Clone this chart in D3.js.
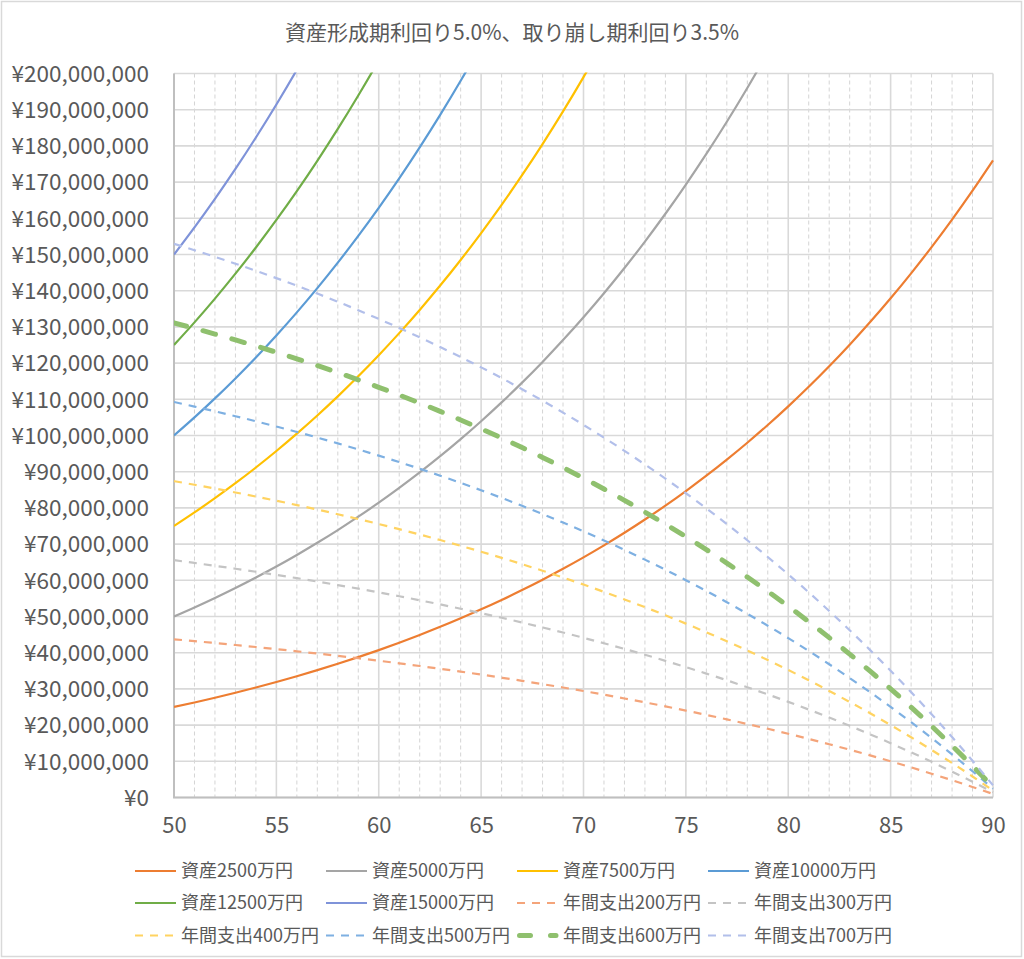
<!DOCTYPE html>
<html><head><meta charset="utf-8">
<script src="https://cdn.jsdelivr.net/npm/d3@7/dist/d3.min.js"></script>
<style>body{margin:0;background:#fff}</style>
</head><body>
<svg id="c" width="1024" height="959"></svg>
<script>
// ---------- DATA (values in 万円) ----------
const title = "資産形成期利回り5.0%、取り崩し期利回り3.5%";
const ages = [50,51,52,53,54,55,56,57,58,59,60,61,62,63,64,65,66,67,68,69,70,71,72,73,74,75,76,77,78,79,80,81,82,83,84,85,86,87,88,89,90];
const xTicks = [50,55,60,65,70,75,80,85,90];
const yTicks = [0,1000,2000,3000,4000,5000,6000,7000,8000,9000,10000,11000,12000,13000,14000,15000,16000,17000,18000,19000,20000];

const asset2500  = [2500,2625,2756,2894,3039,3191,3350,3518,3694,3878,4072,4276,4490,4714,4950,5197,5457,5730,6017,6317,6633,6965,7313,7679,8063,8466,8889,9334,9800,10290,10805,11345,11912,12508,13133,13790,14480,15204,15964,16762,17600];
const asset5000  = [5000,5250,5513,5788,6078,6381,6700,7036,7387,7757,8144,8552,8979,9428,9900,10394,10914,11460,12033,12635,13266,13930,14626,15358,16126,16932,17778,18667,19601,20581,21610];
const asset7500  = [7500,7875,8269,8682,9116,9572,10051,10553,11081,11635,12217,12828,13469,14142,14849,15592,16372,17190,18050,18952,19900,20895,21939];
const asset10000 = [10000,10500,11025,11576,12155,12763,13401,14071,14775,15513,16289,17103,17959,18856,19799,20789,21829];
const asset12500 = [12500,13125,13781,14470,15194,15954,16751,17589,18468,19392,20361,21379];
const asset15000 = [15000,15750,16538,17364,18233,19144,20101,21107];

const spend200 = [4370,4320,4267,4213,4157,4099,4039,3977,3913,3846,3777,3706,3632,3556,3477,3395,3310,3223,3132,3038,2941,2840,2736,2628,2517,2401,2282,2158,2030,1898,1761,1619,1472,1320,1163,1000,832,657,477,290,97];
const spend300 = [6555,6479,6401,6320,6236,6149,6059,5966,5869,5769,5666,5559,5448,5334,5215,5092,4965,4834,4698,4557,4411,4260,4104,3943,3775,3602,3423,3238,3046,2847,2642,2429,2208,1980,1745,1500,1247,986,715,435,145];
const spend400 = [8740,8639,8535,8426,8314,8198,8078,7954,7825,7692,7554,7412,7264,7112,6953,6790,6620,6445,6264,6076,5882,5680,5472,5257,5034,4803,4564,4317,4061,3796,3522,3238,2944,2640,2326,2000,1663,1314,954,580,193];
const spend500 = [10926,10799,10669,10533,10393,10248,10098,9943,9782,9616,9443,9265,9081,8890,8692,8487,8276,8057,7830,7595,7352,7101,6841,6571,6292,6004,5705,5396,5076,4745,4403,4048,3681,3301,2908,2501,2079,1643,1192,725,242];
const spend600 = [13111,12959,12802,12640,12472,12298,12117,11931,11738,11539,11332,11118,10897,10667,10430,10184,9931,9668,9395,9114,8822,8521,8209,7885,7550,7204,6846,6475,6091,5694,5283,4857,4417,3961,3489,3001,2495,1972,1430,870,290];
const spend700 = [15296,15119,14936,14746,14550,14347,14137,13920,13694,13462,13220,12971,12713,12445,12168,11882,11586,11279,10961,10633,10293,9941,9577,9199,8809,8405,7987,7554,7106,6643,6164,5667,5153,4621,4071,3501,2911,2300,1669,1015,338];

const seriesNames = ["資産2500万円","資産5000万円","資産7500万円","資産10000万円","資産12500万円","資産15000万円",
  "年間支出200万円","年間支出300万円","年間支出400万円","年間支出500万円","年間支出600万円","年間支出700万円"];
const seriesValues = [asset2500,asset5000,asset7500,asset10000,asset12500,asset15000,
  spend200,spend300,spend400,spend500,spend600,spend700];

// ---------- STYLES ----------
const styles = [
  {color:"#ED7D31", w:2.2, dash:null},
  {color:"#A5A5A5", w:2.2, dash:null},
  {color:"#FFC000", w:2.2, dash:null},
  {color:"#5B9BD5", w:2.2, dash:null},
  {color:"#70AD47", w:2.2, dash:null},
  {color:"#7F93D9", w:2.2, dash:null},
  {color:"#F4A47A", w:2.2, dash:"8,7"},
  {color:"#C4C4C4", w:2.2, dash:"8,7"},
  {color:"#FFD361", w:2.2, dash:"8,7"},
  {color:"#7EB0E2", w:2.2, dash:"8,7"},
  {color:"#8FC06E", w:5,   dash:"13,17", round:true},
  {color:"#B2BFEA", w:2.2, dash:"8,7"}
];

const FONT = "'Noto Sans CJK JP','Noto Sans',sans-serif";
const TXT = "#595959";
const svg = d3.select("#c");

// outer border
svg.append("rect").attr("x",1.5).attr("y",1.5).attr("width",1020).attr("height",955)
  .attr("fill","#fff").attr("stroke","#d9d9d9").attr("stroke-width",1.5);

// title
svg.append("text").attr("x",512).attr("y",40).attr("text-anchor","middle")
  .attr("font-family",FONT).attr("font-size",21).attr("fill",TXT).text(title);

const L=174, R=993, T=73.5, B=797.5;
const x = d3.scaleLinear().domain([50,90]).range([L,R]);
const y = d3.scaleLinear().domain([0,20000]).range([B,T]);

// minor vertical dashed gridlines
const g = svg.append("g");
g.selectAll(".vmin").data(ages.filter(a=>a%5!==0)).join("line")
  .attr("x1",d=>x(d)).attr("x2",d=>x(d)).attr("y1",T).attr("y2",B)
  .attr("stroke","#d4d4d4").attr("stroke-width",1).attr("stroke-dasharray","4,3");
// horizontal gridlines
g.selectAll(".h").data(yTicks).join("line")
  .attr("x1",L).attr("x2",R).attr("y1",d=>y(d)).attr("y2",d=>y(d))
  .attr("stroke","#d9d9d9").attr("stroke-width",1.6);
// major vertical gridlines
g.selectAll(".vmaj").data(xTicks).join("line")
  .attr("x1",d=>x(d)).attr("x2",d=>x(d)).attr("y1",T).attr("y2",B)
  .attr("stroke","#d9d9d9").attr("stroke-width",1.6);
// axes lines
g.append("line").attr("x1",L).attr("x2",L).attr("y1",T).attr("y2",B).attr("stroke","#bfbfbf").attr("stroke-width",2);
g.append("line").attr("x1",L-1).attr("x2",R).attr("y1",B).attr("y2",B).attr("stroke","#bfbfbf").attr("stroke-width",2);

// axis labels via d3 axes
const yAxis = d3.axisLeft(y).tickValues(yTicks).tickSize(0).tickPadding(0)
  .tickFormat(v => "¥" + d3.format(",")(v*10000));
const ya = svg.append("g").attr("transform",`translate(${L-25},0)`).call(yAxis);
ya.select(".domain").remove();
ya.selectAll("text").attr("font-family",FONT).attr("font-size",22.5).attr("fill",TXT).attr("dy","0.35em");

const xAxis = d3.axisBottom(x).tickValues(xTicks).tickSize(0).tickPadding(0).tickFormat(d3.format("d"));
const xa = svg.append("g").attr("transform",`translate(0,${B+20})`).call(xAxis);
xa.select(".domain").remove();
xa.selectAll("text").attr("font-family",FONT).attr("font-size",22).attr("fill",TXT).attr("dy","0.7em");

// clip
svg.append("clipPath").attr("id","plot").append("rect")
  .attr("x",L).attr("y",T-1).attr("width",R-L+4).attr("height",B-T+2);

const line = d3.line().x((d,i)=>x(ages[i])).y(d=>y(d)).curve(d3.curveMonotoneX);
const lg = svg.append("g").attr("clip-path","url(#plot)");
seriesValues.forEach((vals,i)=>{
  const s = styles[i];
  lg.append("path").attr("d", line(vals))
    .attr("fill","none").attr("stroke",s.color).attr("stroke-width",s.w)
    .attr("stroke-dasharray",s.dash).attr("stroke-linecap",s.round?"round":"butt")
    .attr("stroke-linejoin","round");
});

// legend
const colX = [135,326,517,708];
const rowY = [871,903,935.5];
const leg = svg.append("g");
seriesNames.forEach((name,i)=>{
  const s = styles[i];
  const cx = colX[i%4], cy = rowY[Math.floor(i/4)];
  const item = leg.append("g");
  if (s.round) {
    item.append("line").attr("x1",cx+2.5).attr("x2",cx+39).attr("y1",cy).attr("y2",cy)
      .attr("stroke",s.color).attr("stroke-width",s.w).attr("stroke-linecap","round")
      .attr("stroke-dasharray","11,20");
  } else {
    item.append("line").attr("x1",cx).attr("x2",cx+41).attr("y1",cy).attr("y2",cy)
      .attr("stroke",s.color).attr("stroke-width",s.w).attr("stroke-dasharray",s.dash);
  }
  item.append("text").attr("x",cx+46).attr("y",cy).attr("dy","0.35em")
    .attr("font-family",FONT).attr("font-size",18).attr("fill",TXT).text(name);
});
</script>
</body></html>
